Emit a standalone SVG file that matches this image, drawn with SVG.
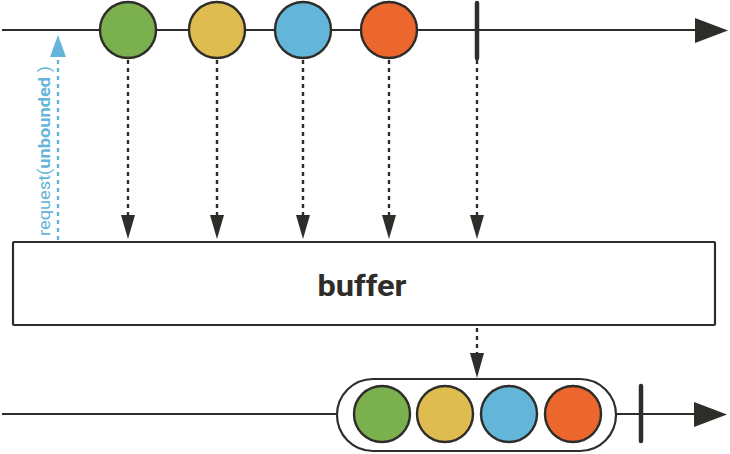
<svg xmlns="http://www.w3.org/2000/svg" width="730" height="454" viewBox="0 0 730 454">
<style>
.line{stroke:#2f2d2a;stroke-width:2.2;fill:none}
.dash{stroke:#2f2d2a;stroke-width:2.4;stroke-dasharray:4,4;fill:none}
.head{fill:#2f2d2a}
.c{stroke:#2f2d2a;stroke-width:2.4}
.g{fill:#7ab04d}.y{fill:#dfbc50}.b{fill:#63b5da}.o{fill:#eb672e}
.bar{stroke:#2f2d2a;stroke-width:4.5;stroke-linecap:round}
</style>
<rect width="730" height="454" fill="#fff"/>
<g id="connectors">
  <line class="line" x1="2" y1="30" x2="700" y2="30"/>
  <polygon class="head" points="695,18 728,30.5 695,43"/>
  <line class="line" x1="2" y1="414" x2="700" y2="414"/>
  <polygon class="head" points="694,402 727,414.5 694,427"/>
  <g id="dashed">
    <line class="dash" x1="128" y1="60" x2="128" y2="216"/>
    <polygon class="head" points="121,215 135,215 128,239"/>
    <line class="dash" x1="217" y1="60" x2="217" y2="216"/>
    <polygon class="head" points="210,215 224,215 217,239"/>
    <line class="dash" x1="303" y1="60" x2="303" y2="216"/>
    <polygon class="head" points="296,215 310,215 303,239"/>
    <line class="dash" x1="389" y1="60" x2="389" y2="216"/>
    <polygon class="head" points="382,215 396,215 389,239"/>
    <line class="dash" x1="477" y1="60" x2="477" y2="216"/>
    <polygon class="head" points="470,215 484,215 477,239"/>
    <line class="dash" x1="477" y1="328" x2="477" y2="354"/>
    <polygon class="head" points="470,353 484,353 477,378"/>
  </g>
  <g id="request">
    <line x1="58" y1="240" x2="58" y2="56" stroke="#63b5da" stroke-width="2.4" stroke-dasharray="4,4"/>
    <polygon points="50,57 66,57 58,35" fill="#63b5da"/>
  </g>
</g>
<text transform="translate(50,236) rotate(-90)" font-family="Roboto,'Liberation Sans',sans-serif" font-size="16" fill="#63b5da" textLength="170" lengthAdjust="spacingAndGlyphs">request(<tspan font-weight="bold">unbounded</tspan> )</text>
<g id="source">
  <circle class="c g" cx="128" cy="30" r="28"/>
  <circle class="c y" cx="217" cy="30" r="28"/>
  <circle class="c b" cx="303" cy="30" r="28"/>
  <circle class="c o" cx="389" cy="30" r="28"/>
  <line class="bar" x1="477" y1="3" x2="477" y2="58"/>
</g>
<g id="buffer">
  <rect x="13" y="242" width="702" height="83" fill="#fff" stroke="#2f2d2a" stroke-width="2.2" rx="1"/>
  <text x="362" y="296" text-anchor="middle" font-family="Roboto,'Liberation Sans',sans-serif" font-size="29" font-weight="bold" fill="#2f2d2a" textLength="89" lengthAdjust="spacingAndGlyphs">buffer</text>
</g>
<g id="output">
  <rect x="337" y="379" width="279" height="72" rx="36" fill="#fff" stroke="#2f2d2a" stroke-width="2.2"/>
  <circle class="c g" cx="382" cy="414" r="28"/>
  <circle class="c y" cx="445" cy="414" r="28"/>
  <circle class="c b" cx="509" cy="414" r="28"/>
  <circle class="c o" cx="573" cy="414" r="28"/>
  <line class="bar" x1="641" y1="386" x2="641" y2="441"/>
</g>
</svg>
